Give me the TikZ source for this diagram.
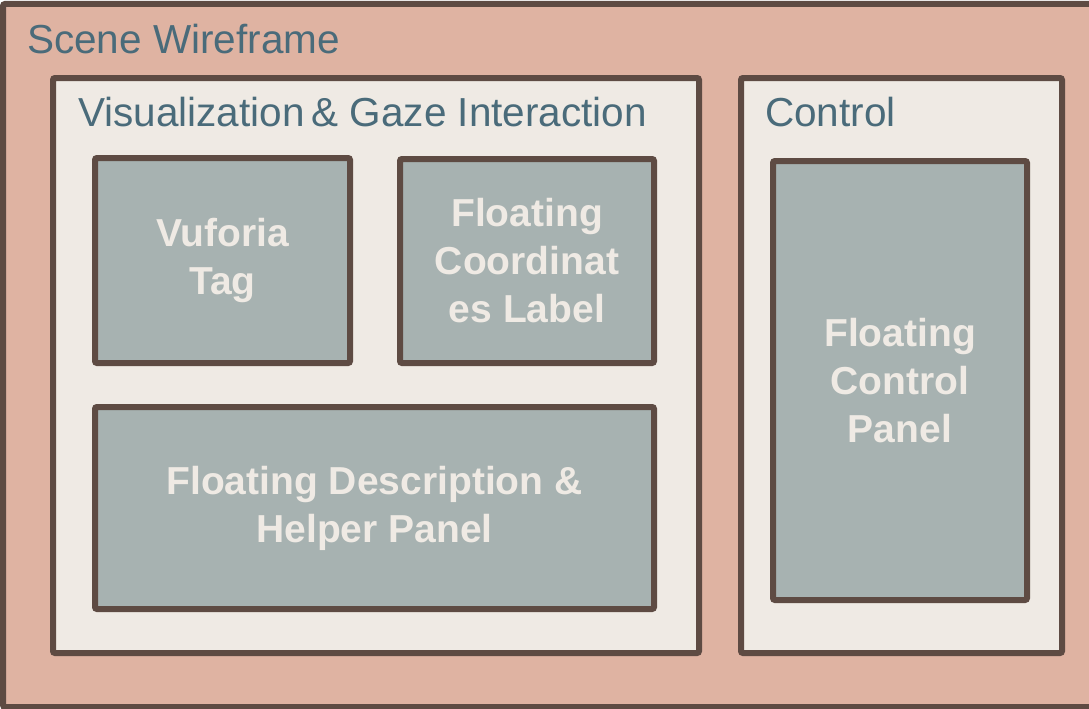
\documentclass[tikz,border=0pt]{standalone}
\usepackage{fontspec}
\setmainfont{Liberation Sans}
\definecolor{frameline}{HTML}{5E4B43}
\definecolor{scenefill}{HTML}{DFB3A2}
\definecolor{groupfill}{HTML}{EFEAE4}
\definecolor{panelfill}{HTML}{A7B2B1}
\definecolor{titletext}{HTML}{4A6B7A}
\definecolor{paneltext}{HTML}{EFEAE4}
\tikzset{
  scenebox/.style={draw=frameline, fill=scenefill, line width=6pt, rounded corners=2pt, inner sep=0pt},
  groupbox/.style={draw=frameline, fill=groupfill, line width=6pt, rounded corners=2pt, inner sep=0pt},
  panelbox/.style={draw=frameline, fill=panelfill, line width=6pt, rounded corners=2pt, inner sep=0pt,
    text=paneltext, align=center, font=\fontsize{39}{48}\selectfont\bfseries},
  title/.style={anchor=base west, inner sep=0pt, text=titletext, font=\fontsize{40.5}{44}\selectfont},
}
\begin{document}
\begin{tikzpicture}[x=1pt, y=-1pt]
  \useasboundingbox[fill=white] (0,0) rectangle (1089,709);
  % outer scene frame
  \node[scenebox, minimum width=1092pt, minimum height=703pt] (scene) at (549,355.5) {};
  \node[title] (scenetitle) at (27,54) {Scene Wireframe};
  % groups
  \node[groupbox, minimum width=646pt, minimum height=575pt] (viz) at (376,365.5) {};
  \node[title] (viztitle) at (78,126) {Visualization\,\& Gaze Interaction};
  \node[groupbox, minimum width=321pt, minimum height=575pt] (ctrl) at (901.5,365.5) {};
  \node[title] (ctrltitle) at (765,126) {Control};
  % panels
  \node[panelbox, minimum width=255pt, minimum height=205pt] (vuf) at (222.5,260.5) {Vuforia\\Tag};
  \node[panelbox, minimum width=254pt, minimum height=204pt] (coord) at (527,261) {Floating\\Coordinat\\es Label};
  \node[panelbox, minimum width=559pt, minimum height=202pt] (desc) at (374.5,508) {Floating Description \&\\Helper Panel};
  \node[panelbox, minimum width=254pt, minimum height=439pt] (fcp) at (900,380.5) {Floating\\Control\\Panel};
\end{tikzpicture}
\end{document}
